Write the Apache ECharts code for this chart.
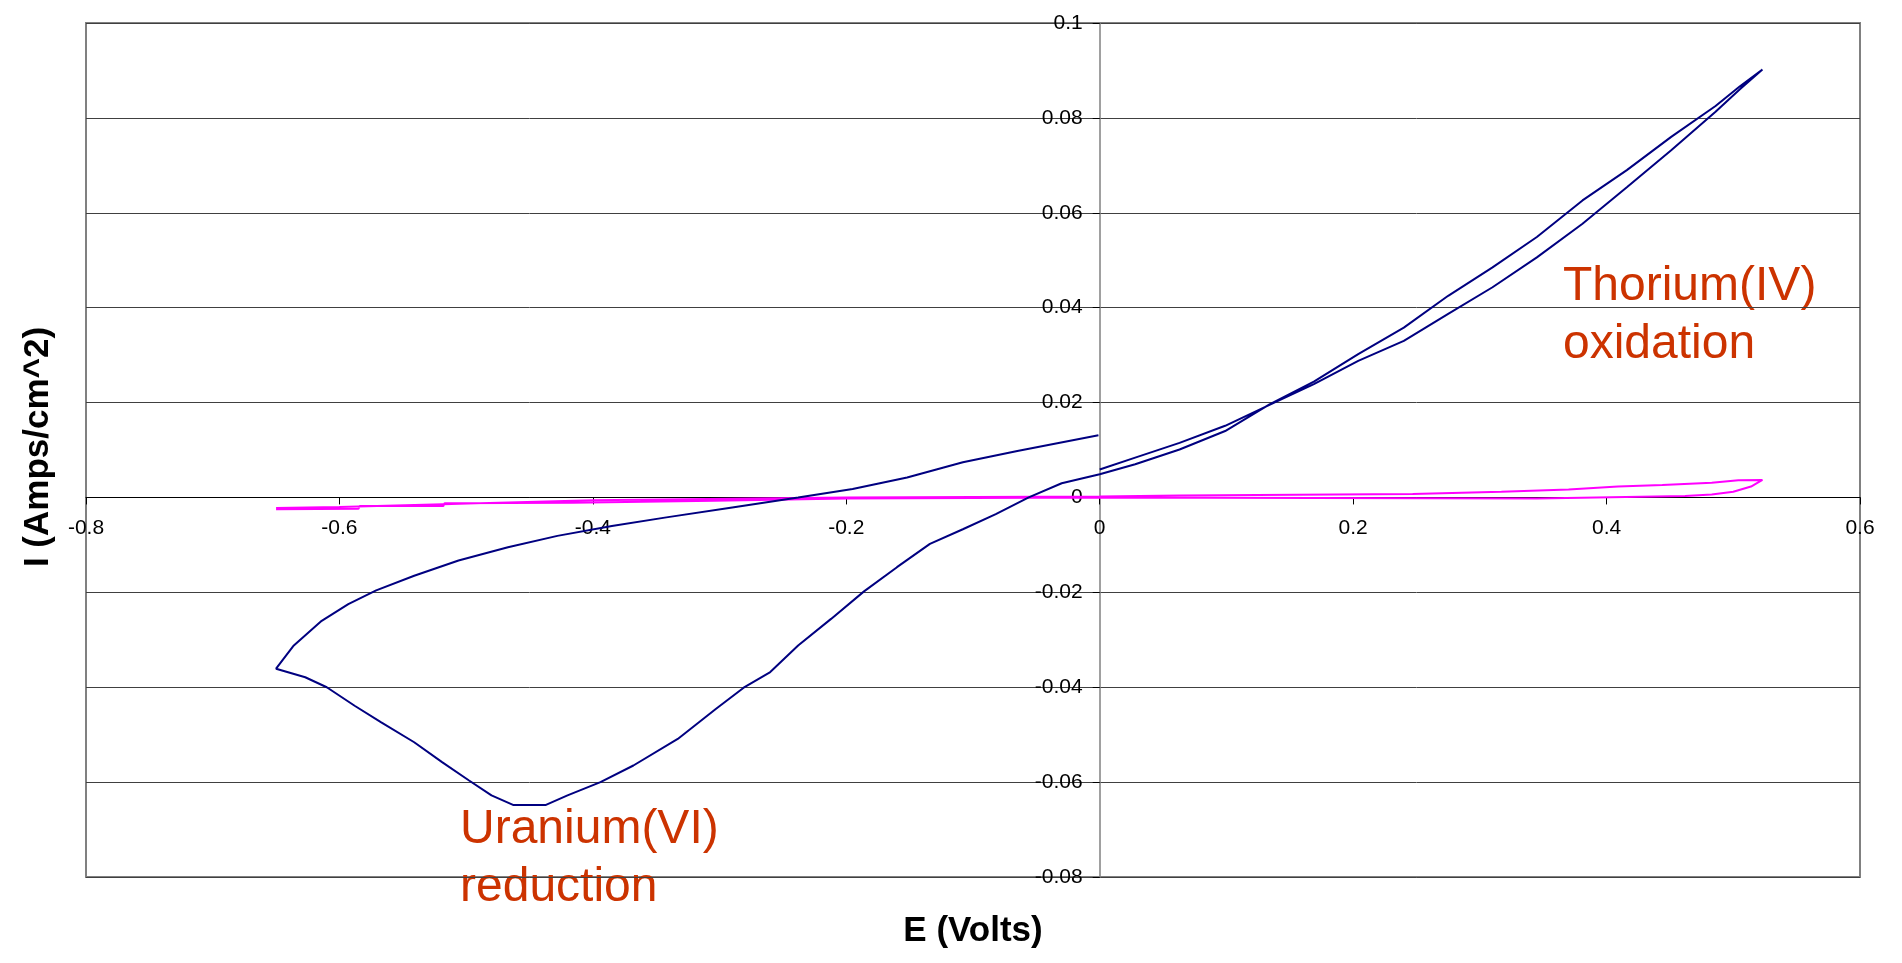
<!DOCTYPE html>
<html>
<head>
<meta charset="utf-8">
<script src="https://cdn.jsdelivr.net/npm/echarts@6/dist/echarts.min.js"></script>
<style>
html,body{margin:0;padding:0;background:#fff;}
#chart{width:1902px;height:963px;}
</style>
</head>
<body>
<div id="chart"></div>
<script>
// Uranium / Thorium cyclic voltammogram (blue), blank (magenta)
var blueE = [0.000,0.028,0.063,0.099,0.134,0.169,0.204,0.240,0.275,0.310,0.345,0.381,0.416,0.451,0.486,0.505,0.523,
  0.505,0.486,0.451,0.416,0.381,0.345,0.310,0.275,0.240,0.204,0.169,0.134,0.099,0.063,0.028,0.000,
  -0.030,-0.056,-0.082,-0.108,-0.134,-0.160,-0.186,-0.212,-0.238,-0.260,-0.281,-0.303,-0.333,-0.368,-0.394,-0.420,-0.437,-0.463,-0.480,-0.498,-0.519,-0.541,-0.567,-0.588,-0.610,-0.627,-0.650,
  -0.636,-0.614,-0.593,-0.571,-0.541,-0.506,-0.467,-0.428,-0.385,-0.342,-0.290,-0.238,-0.195,-0.152,-0.108,-0.065,-0.001];
var blueI = [0.0059,0.0084,0.0115,0.0151,0.0195,0.0239,0.0288,0.0330,0.0387,0.0443,0.0506,0.0577,0.0654,0.0732,0.0813,0.0860,0.0902,
  0.0866,0.0825,0.0760,0.0690,0.0626,0.0549,0.0485,0.0425,0.0358,0.0302,0.0244,0.0196,0.0140,0.0101,0.0070,0.0049,
  0.0030,0.0000,-0.0035,-0.0067,-0.0098,-0.0147,-0.0198,-0.0256,-0.0312,-0.0368,-0.0401,-0.0446,-0.0509,-0.0565,-0.0600,-0.0628,-0.0648,-0.0648,-0.0628,-0.0596,-0.0558,-0.0516,-0.0474,-0.0439,-0.0400,-0.0379,-0.0361,
  -0.0312,-0.0260,-0.0225,-0.0196,-0.0165,-0.0133,-0.0105,-0.0081,-0.0060,-0.0042,-0.0021,0.0000,0.0018,0.0042,0.0074,0.0098,0.0131];

var pinkE = [-0.650,-0.585,-0.584,-0.518,-0.517,-0.416,-0.415,-0.304,-0.303,-0.200,-0.100,0.000,0.169,0.345,0.462,0.483,0.500,0.514,0.523,
  0.504,0.483,0.444,0.409,0.370,0.317,0.247,0.063,0.000,-0.200,-0.400,-0.600,-0.650];
var pinkI = [-0.0025,-0.0024,-0.0018,-0.0018,-0.0012,-0.0011,-0.0008,-0.0007,-0.0004,-0.0002,-0.0001,0.0000,-0.0001,-0.0002,0.0003,0.0006,0.0012,0.0023,0.0037,
  0.0036,0.0031,0.0026,0.0023,0.0017,0.0012,0.0007,0.0004,0.0002,0.0000,-0.0006,-0.0020,-0.0022];

var xTicks = {min:-0.8, max:0.6, interval:0.2};
var yTicks = {min:-0.08, max:0.1, interval:0.02};
var xTitle = 'E (Volts)';
var yTitle = 'I (Amps/cm^2)';
var noteThorium = 'Thorium(IV)\noxidation';
var noteUranium = 'Uranium(VI)\nreduction';

function zip(a,b){ var o=[]; for(var i=0;i<a.length;i++) o.push([a[i],b[i]]); return o; }

var FONT = '"Liberation Sans", Arial, sans-serif';
var chart = echarts.init(document.getElementById('chart'), null, {renderer:'canvas'});
chart.setOption({
  animation:false,
  backgroundColor:'#ffffff',
  grid:{left:86, right:42, top:23, bottom:86, show:true, borderColor:'#808080', borderWidth:2, backgroundColor:'transparent'},
  xAxis:{
    type:'value', position:'bottom', min:xTicks.min, max:xTicks.max, interval:xTicks.interval,
    axisLine:{show:true, onZero:false, lineStyle:{color:'#000', width:1}},
    axisTick:{show:true, inside:false, length:7, lineStyle:{color:'#000'}},
    axisLabel:{color:'#000', fontSize:21, fontFamily:FONT, margin:20},
    splitLine:{show:false}
  },
  yAxis:{
    type:'value', position:'left', min:yTicks.min, max:yTicks.max, interval:yTicks.interval,
    axisLine:{show:true, onZero:false, lineStyle:{color:'#808080', width:1.5}},
    axisTick:{show:true, inside:false, length:7, lineStyle:{color:'#000'}},
    axisLabel:{color:'#000', fontSize:21, fontFamily:FONT, margin:17},
    splitLine:{show:true, lineStyle:{color:'#404040', width:1}}
  },
  series:[
    {type:'line', data:zip(pinkE,pinkI), showSymbol:false, symbol:'none', lineStyle:{color:'#FF00FF', width:2}, z:3},
    {type:'line', data:zip(blueE,blueI), showSymbol:false, symbol:'none', lineStyle:{color:'#000080', width:2}, z:4}
  ],
  graphic:[
    {type:'text', x:973, y:931, style:{text:xTitle, font:'bold 35px '+FONT, fill:'#000', align:'center', verticalAlign:'middle'}},
    {type:'text', x:38, y:447, rotation:Math.PI/2, style:{text:yTitle, font:'bold 35px '+FONT, fill:'#000', align:'center', verticalAlign:'middle'}},
    {type:'text', x:1563, y:258, style:{text:noteThorium, font:'48px '+FONT, fill:'#CC3300', lineHeight:58, align:'left', verticalAlign:'top'}},
    {type:'text', x:460, y:801, style:{text:noteUranium, font:'48px '+FONT, fill:'#CC3300', lineHeight:58, align:'left', verticalAlign:'top'}}
  ]
});
// move both axes so they cross at the origin (0,0)
var yBottom = chart.convertToPixel({yAxisIndex:0}, yTicks.min);
var yZero = chart.convertToPixel({yAxisIndex:0}, 0);
var xLeft = chart.convertToPixel({xAxisIndex:0}, xTicks.min);
var xZero = chart.convertToPixel({xAxisIndex:0}, 0);
chart.setOption({
  xAxis:{offset: yZero - yBottom},
  yAxis:{offset: -(xZero - xLeft)}
});
</script>
</body>
</html>
